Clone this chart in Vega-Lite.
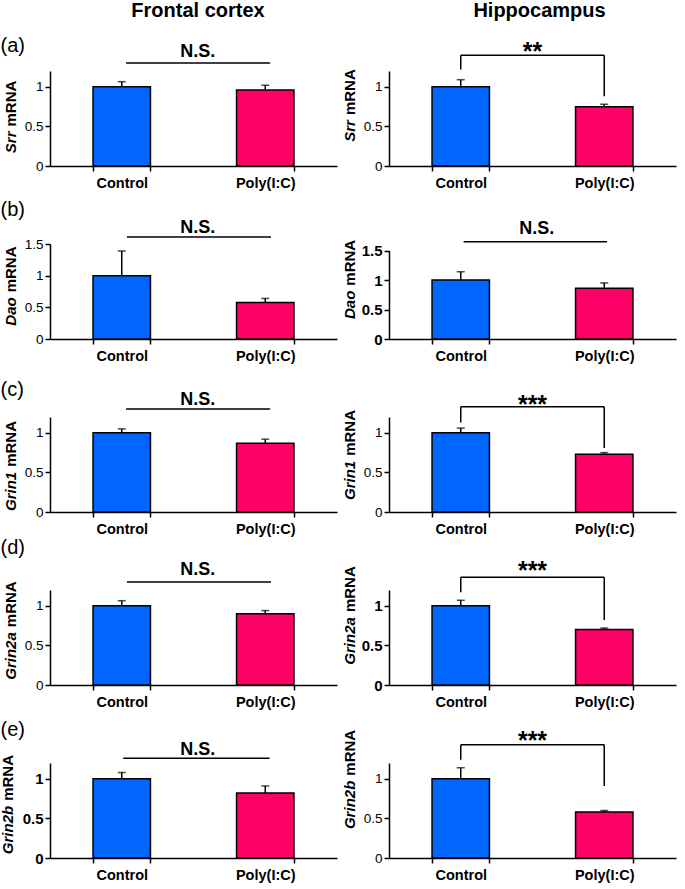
{
"$schema": "https://vega.github.io/schema/vega-lite/v6.json",
"padding": {"left": 0, "top": 0, "right": 5, "bottom": 5},
"background": "white",
"datasets": {
"bars": [
{"p":"a1","group":"Control","mean":1.0,"upper":1.065},
{"p":"a1","group":"Poly(I:C)","mean":0.96,"upper":1.02},
{"p":"a2","group":"Control","mean":1.0,"upper":1.09},
{"p":"a2","group":"Poly(I:C)","mean":0.75,"upper":0.78},
{"p":"b1","group":"Control","mean":1.0,"upper":1.39},
{"p":"b1","group":"Poly(I:C)","mean":0.575,"upper":0.64},
{"p":"b2","group":"Control","mean":1.0,"upper":1.14},
{"p":"b2","group":"Poly(I:C)","mean":0.86,"upper":0.95},
{"p":"c1","group":"Control","mean":1.0,"upper":1.05},
{"p":"c1","group":"Poly(I:C)","mean":0.87,"upper":0.92},
{"p":"c2","group":"Control","mean":1.0,"upper":1.06},
{"p":"c2","group":"Poly(I:C)","mean":0.73,"upper":0.75},
{"p":"d1","group":"Control","mean":1.0,"upper":1.065},
{"p":"d1","group":"Poly(I:C)","mean":0.9,"upper":0.94},
{"p":"d2","group":"Control","mean":1.0,"upper":1.07},
{"p":"d2","group":"Poly(I:C)","mean":0.7,"upper":0.72},
{"p":"e1","group":"Control","mean":1.0,"upper":1.08},
{"p":"e1","group":"Poly(I:C)","mean":0.82,"upper":0.91},
{"p":"e2","group":"Control","mean":1.0,"upper":1.14},
{"p":"e2","group":"Poly(I:C)","mean":0.58,"upper":0.6}
],
"lines": [
{"p":"a1","px":0.265,"px2":0.767,"y":1.3,"y2":1.3},
{"p":"a2","px":0.25,"px2":0.75,"y":1.4,"y2":1.4},
{"p":"a2","px":0.25,"px2":0.25,"y":1.4,"y2":1.22},
{"p":"a2","px":0.75,"px2":0.75,"y":1.4,"y2":0.88},
{"p":"b1","px":0.268,"px2":0.77,"y":1.61,"y2":1.61},
{"p":"b2","px":0.26,"px2":0.76,"y":1.65,"y2":1.65},
{"p":"c1","px":0.265,"px2":0.767,"y":1.3,"y2":1.3},
{"p":"c2","px":0.25,"px2":0.75,"y":1.33,"y2":1.33},
{"p":"c2","px":0.25,"px2":0.25,"y":1.33,"y2":1.13},
{"p":"c2","px":0.75,"px2":0.75,"y":1.33,"y2":0.81},
{"p":"d1","px":0.268,"px2":0.77,"y":1.3,"y2":1.3},
{"p":"d2","px":0.25,"px2":0.75,"y":1.36,"y2":1.36},
{"p":"d2","px":0.25,"px2":0.25,"y":1.36,"y2":1.17},
{"p":"d2","px":0.75,"px2":0.75,"y":1.36,"y2":0.82},
{"p":"e1","px":0.255,"px2":0.765,"y":1.26,"y2":1.26},
{"p":"e2","px":0.25,"px2":0.75,"y":1.43,"y2":1.43},
{"p":"e2","px":0.25,"px2":0.25,"y":1.43,"y2":1.24},
{"p":"e2","px":0.75,"px2":0.75,"y":1.43,"y2":0.91}
],
"texts": [
{"p":"a1","px":0.515,"y":1.38,"label":"N.S."},
{"p":"a2","px":0.5,"y":1.34,"label":"**"},
{"p":"b1","px":0.515,"y":1.67,"label":"N.S."},
{"p":"b2","px":0.515,"y":1.78,"label":"N.S."},
{"p":"c1","px":0.515,"y":1.35,"label":"N.S."},
{"p":"c2","px":0.5,"y":1.25,"label":"***"},
{"p":"d1","px":0.515,"y":1.39,"label":"N.S."},
{"p":"d2","px":0.5,"y":1.34,"label":"***"},
{"p":"e1","px":0.515,"y":1.3,"label":"N.S."},
{"p":"e2","px":0.5,"y":1.38,"label":"***"}
]
},
"columns": 2,
"spacing": {"row": 78, "column": 52},
"bounds": "flush",
"concat": [
{
"width": 287, "height": 95,
"layer": [
{"data": {"name": "bars"}, "transform": [{"filter": "datum.p === 'a1'"}],
 "mark": {"type": "bar", "stroke": "black", "strokeWidth": 1.5},
 "encoding": {
  "x": {"field": "group", "type": "nominal", "sort": null, "scale": {"domain": ["Control","Poly(I:C)"], "paddingInner": 0.6, "paddingOuter": 0.3}, "axis": {"title": null, "orient": "bottom", "labelAngle": 0, "labelFontWeight": "bold", "labelFontSize": 14.5, "labelPadding": 5, "tickBand": "extent", "tickSize": 5}},
  "y": {"field": "mean", "type": "quantitative", "scale": {"domain": [0, 1.2], "nice": false, "zero": true}, "axis": {"values": [0, 0.5, 1], "format": "~g", "labelFontSize": 13.5, "labelFontWeight": "normal", "labelPadding": 2, "tickSize": 5, "title": "mRNA", "titleX": -35, "titleY": 55, "titleAlign": "left", "titleAngle": -90, "titleBaseline": "alphabetic", "titleFontSize": 15, "titleFontWeight": "bold"}},
  "fill": {"field": "group", "type": "nominal", "scale": {"domain": ["Control","Poly(I:C)"], "range": ["#0066FF","#FF0066"]}, "legend": null}
 }},
{"data": {"name": "bars"}, "transform": [{"filter": "datum.p === 'a1'"}],
 "mark": {"type": "rule", "strokeWidth": 1.5, "color": "black"},
 "encoding": {
  "x": {"field": "group", "type": "nominal", "sort": null, "scale": {"domain": ["Control","Poly(I:C)"], "paddingInner": 0.6, "paddingOuter": 0.3}, "axis": {"orient": "top", "labels": false, "ticks": false, "domain": false, "title": "(a)", "titleX": -50, "titleY": -20, "titleAlign": "left", "titleAngle": 0, "titleBaseline": "alphabetic", "titleFontSize": 20, "titleFontWeight": "normal"}},
  "y": {"field": "mean", "type": "quantitative", "scale": {"domain": [0, 1.2], "nice": false, "zero": true}, "axis": null},
  "y2": {"field": "upper"}
 }},
{"data": {"name": "bars"}, "transform": [{"filter": "datum.p === 'a1'"}],
 "mark": {"type": "tick", "size": 8, "thickness": 1.5, "color": "black"},
 "encoding": {
  "x": {"field": "group", "type": "nominal", "sort": null, "scale": {"domain": ["Control","Poly(I:C)"], "paddingInner": 0.6, "paddingOuter": 0.3}, "axis": null},
  "y": {"field": "upper", "type": "quantitative", "scale": {"domain": [0, 1.2], "nice": false, "zero": true}, "axis": null}
 }},
{"data": {"name": "lines"}, "transform": [{"filter": "datum.p === 'a1'"}],
 "mark": {"type": "rule", "strokeWidth": 1.5, "color": "black"},
 "encoding": {
  "x": {"field": "px", "type": "quantitative", "scale": {"domain": [0, 1]}, "axis": null},
  "x2": {"field": "px2"},
  "y": {"field": "y", "type": "quantitative", "scale": {"domain": [0, 1.2], "nice": false, "zero": true}, "axis": {"orient": "left", "labels": false, "ticks": false, "domain": false, "grid": false, "title": "Srr", "titleFontStyle": "italic", "titleX": -35, "titleY": 60, "titleAlign": "right", "titleAngle": -90, "titleBaseline": "alphabetic", "titleFontSize": 15, "titleFontWeight": "bold"}},
  "y2": {"field": "y2"}
 }},
{"data": {"name": "texts"}, "transform": [{"filter": "datum.p === 'a1'"}],
 "mark": {"type": "text", "fontWeight": "bold", "fontSize": 18, "baseline": "alphabetic"},
 "encoding": {
  "x": {"field": "px", "type": "quantitative", "scale": {"domain": [0, 1]}, "axis": {"orient": "top", "labels": false, "ticks": false, "domain": false, "title": "Frontal cortex", "titleX": 147.5, "titleY": -55, "titleAlign": "center", "titleAngle": 0, "titleBaseline": "alphabetic", "titleFontSize": 20, "titleFontWeight": "bold"}},
  "y": {"field": "y", "type": "quantitative", "scale": {"domain": [0, 1.2], "nice": false, "zero": true}, "axis": null},
  "text": {"field": "label"}
 }}
],
"resolve": {"scale": {"x": "independent"}, "axis": {"y": "independent"}}
},
{
"width": 287, "height": 95,
"layer": [
{"data": {"name": "bars"}, "transform": [{"filter": "datum.p === 'a2'"}],
 "mark": {"type": "bar", "stroke": "black", "strokeWidth": 1.5},
 "encoding": {
  "x": {"field": "group", "type": "nominal", "sort": null, "scale": {"domain": ["Control","Poly(I:C)"], "paddingInner": 0.6, "paddingOuter": 0.3}, "axis": {"title": null, "orient": "bottom", "labelAngle": 0, "labelFontWeight": "bold", "labelFontSize": 14.5, "labelPadding": 5, "tickBand": "extent", "tickSize": 5}},
  "y": {"field": "mean", "type": "quantitative", "scale": {"domain": [0, 1.2], "nice": false, "zero": true}, "axis": {"values": [0, 0.5, 1], "format": "~g", "labelFontSize": 13.5, "labelFontWeight": "normal", "labelPadding": 2, "tickSize": 5, "title": "mRNA", "titleX": -35, "titleY": 43.6, "titleAlign": "left", "titleAngle": -90, "titleBaseline": "alphabetic", "titleFontSize": 15, "titleFontWeight": "bold"}},
  "fill": {"field": "group", "type": "nominal", "scale": {"domain": ["Control","Poly(I:C)"], "range": ["#0066FF","#FF0066"]}, "legend": null}
 }},
{"data": {"name": "bars"}, "transform": [{"filter": "datum.p === 'a2'"}],
 "mark": {"type": "rule", "strokeWidth": 1.5, "color": "black"},
 "encoding": {
  "x": {"field": "group", "type": "nominal", "sort": null, "scale": {"domain": ["Control","Poly(I:C)"], "paddingInner": 0.6, "paddingOuter": 0.3}, "axis": null},
  "y": {"field": "mean", "type": "quantitative", "scale": {"domain": [0, 1.2], "nice": false, "zero": true}, "axis": null},
  "y2": {"field": "upper"}
 }},
{"data": {"name": "bars"}, "transform": [{"filter": "datum.p === 'a2'"}],
 "mark": {"type": "tick", "size": 8, "thickness": 1.5, "color": "black"},
 "encoding": {
  "x": {"field": "group", "type": "nominal", "sort": null, "scale": {"domain": ["Control","Poly(I:C)"], "paddingInner": 0.6, "paddingOuter": 0.3}, "axis": null},
  "y": {"field": "upper", "type": "quantitative", "scale": {"domain": [0, 1.2], "nice": false, "zero": true}, "axis": null}
 }},
{"data": {"name": "lines"}, "transform": [{"filter": "datum.p === 'a2'"}],
 "mark": {"type": "rule", "strokeWidth": 1.5, "color": "black"},
 "encoding": {
  "x": {"field": "px", "type": "quantitative", "scale": {"domain": [0, 1]}, "axis": null},
  "x2": {"field": "px2"},
  "y": {"field": "y", "type": "quantitative", "scale": {"domain": [0, 1.2], "nice": false, "zero": true}, "axis": {"orient": "left", "labels": false, "ticks": false, "domain": false, "grid": false, "title": "Srr", "titleFontStyle": "italic", "titleX": -35, "titleY": 48.6, "titleAlign": "right", "titleAngle": -90, "titleBaseline": "alphabetic", "titleFontSize": 15, "titleFontWeight": "bold"}},
  "y2": {"field": "y2"}
 }},
{"data": {"name": "texts"}, "transform": [{"filter": "datum.p === 'a2'"}],
 "mark": {"type": "text", "fontWeight": "bold", "fontSize": 25, "baseline": "alphabetic"},
 "encoding": {
  "x": {"field": "px", "type": "quantitative", "scale": {"domain": [0, 1]}, "axis": {"orient": "top", "labels": false, "ticks": false, "domain": false, "title": "Hippocampus", "titleX": 150, "titleY": -55, "titleAlign": "center", "titleAngle": 0, "titleBaseline": "alphabetic", "titleFontSize": 20, "titleFontWeight": "bold"}},
  "y": {"field": "y", "type": "quantitative", "scale": {"domain": [0, 1.2], "nice": false, "zero": true}, "axis": null},
  "text": {"field": "label"}
 }}
],
"resolve": {"scale": {"x": "independent"}, "axis": {"y": "independent"}}
},
{
"width": 287, "height": 95,
"layer": [
{"data": {"name": "bars"}, "transform": [{"filter": "datum.p === 'b1'"}],
 "mark": {"type": "bar", "stroke": "black", "strokeWidth": 1.5},
 "encoding": {
  "x": {"field": "group", "type": "nominal", "sort": null, "scale": {"domain": ["Control","Poly(I:C)"], "paddingInner": 0.6, "paddingOuter": 0.3}, "axis": {"title": null, "orient": "bottom", "labelAngle": 0, "labelFontWeight": "bold", "labelFontSize": 14.5, "labelPadding": 5, "tickBand": "extent", "tickSize": 5}},
  "y": {"field": "mean", "type": "quantitative", "scale": {"domain": [0, 1.5], "nice": false, "zero": true}, "axis": {"values": [0, 0.5, 1, 1.5], "format": "~g", "labelFontSize": 13.5, "labelFontWeight": "normal", "labelPadding": 2, "tickSize": 5, "title": "mRNA", "titleX": -35, "titleY": 47.8, "titleAlign": "left", "titleAngle": -90, "titleBaseline": "alphabetic", "titleFontSize": 15, "titleFontWeight": "bold"}},
  "fill": {"field": "group", "type": "nominal", "scale": {"domain": ["Control","Poly(I:C)"], "range": ["#0066FF","#FF0066"]}, "legend": null}
 }},
{"data": {"name": "bars"}, "transform": [{"filter": "datum.p === 'b1'"}],
 "mark": {"type": "rule", "strokeWidth": 1.5, "color": "black"},
 "encoding": {
  "x": {"field": "group", "type": "nominal", "sort": null, "scale": {"domain": ["Control","Poly(I:C)"], "paddingInner": 0.6, "paddingOuter": 0.3}, "axis": {"orient": "top", "labels": false, "ticks": false, "domain": false, "title": "(b)", "titleX": -50, "titleY": -29, "titleAlign": "left", "titleAngle": 0, "titleBaseline": "alphabetic", "titleFontSize": 20, "titleFontWeight": "normal"}},
  "y": {"field": "mean", "type": "quantitative", "scale": {"domain": [0, 1.5], "nice": false, "zero": true}, "axis": null},
  "y2": {"field": "upper"}
 }},
{"data": {"name": "bars"}, "transform": [{"filter": "datum.p === 'b1'"}],
 "mark": {"type": "tick", "size": 8, "thickness": 1.5, "color": "black"},
 "encoding": {
  "x": {"field": "group", "type": "nominal", "sort": null, "scale": {"domain": ["Control","Poly(I:C)"], "paddingInner": 0.6, "paddingOuter": 0.3}, "axis": null},
  "y": {"field": "upper", "type": "quantitative", "scale": {"domain": [0, 1.5], "nice": false, "zero": true}, "axis": null}
 }},
{"data": {"name": "lines"}, "transform": [{"filter": "datum.p === 'b1'"}],
 "mark": {"type": "rule", "strokeWidth": 1.5, "color": "black"},
 "encoding": {
  "x": {"field": "px", "type": "quantitative", "scale": {"domain": [0, 1]}, "axis": null},
  "x2": {"field": "px2"},
  "y": {"field": "y", "type": "quantitative", "scale": {"domain": [0, 1.5], "nice": false, "zero": true}, "axis": {"orient": "left", "labels": false, "ticks": false, "domain": false, "grid": false, "title": "Dao", "titleFontStyle": "italic", "titleX": -35, "titleY": 52.8, "titleAlign": "right", "titleAngle": -90, "titleBaseline": "alphabetic", "titleFontSize": 15, "titleFontWeight": "bold"}},
  "y2": {"field": "y2"}
 }},
{"data": {"name": "texts"}, "transform": [{"filter": "datum.p === 'b1'"}],
 "mark": {"type": "text", "fontWeight": "bold", "fontSize": 18, "baseline": "alphabetic"},
 "encoding": {
  "x": {"field": "px", "type": "quantitative", "scale": {"domain": [0, 1]}, "axis": null},
  "y": {"field": "y", "type": "quantitative", "scale": {"domain": [0, 1.5], "nice": false, "zero": true}, "axis": null},
  "text": {"field": "label"}
 }}
],
"resolve": {"scale": {"x": "independent"}, "axis": {"y": "independent"}}
},
{
"width": 287, "height": 95,
"layer": [
{"data": {"name": "bars"}, "transform": [{"filter": "datum.p === 'b2'"}],
 "mark": {"type": "bar", "stroke": "black", "strokeWidth": 1.5},
 "encoding": {
  "x": {"field": "group", "type": "nominal", "sort": null, "scale": {"domain": ["Control","Poly(I:C)"], "paddingInner": 0.6, "paddingOuter": 0.3}, "axis": {"title": null, "orient": "bottom", "labelAngle": 0, "labelFontWeight": "bold", "labelFontSize": 14.5, "labelPadding": 5, "tickBand": "extent", "tickSize": 5}},
  "y": {"field": "mean", "type": "quantitative", "scale": {"domain": [0, 1.5], "nice": false, "zero": true, "range": [95, 6.5]}, "axis": {"values": [0, 0.5, 1, 1.5], "format": "~g", "labelFontSize": 15, "labelFontWeight": "bold", "labelPadding": 2, "tickSize": 5, "title": "mRNA", "titleX": -35, "titleY": 41.2, "titleAlign": "left", "titleAngle": -90, "titleBaseline": "alphabetic", "titleFontSize": 15, "titleFontWeight": "bold"}},
  "fill": {"field": "group", "type": "nominal", "scale": {"domain": ["Control","Poly(I:C)"], "range": ["#0066FF","#FF0066"]}, "legend": null}
 }},
{"data": {"name": "bars"}, "transform": [{"filter": "datum.p === 'b2'"}],
 "mark": {"type": "rule", "strokeWidth": 1.5, "color": "black"},
 "encoding": {
  "x": {"field": "group", "type": "nominal", "sort": null, "scale": {"domain": ["Control","Poly(I:C)"], "paddingInner": 0.6, "paddingOuter": 0.3}, "axis": null},
  "y": {"field": "mean", "type": "quantitative", "scale": {"domain": [0, 1.5], "nice": false, "zero": true, "range": [95, 6.5]}, "axis": null},
  "y2": {"field": "upper"}
 }},
{"data": {"name": "bars"}, "transform": [{"filter": "datum.p === 'b2'"}],
 "mark": {"type": "tick", "size": 8, "thickness": 1.5, "color": "black"},
 "encoding": {
  "x": {"field": "group", "type": "nominal", "sort": null, "scale": {"domain": ["Control","Poly(I:C)"], "paddingInner": 0.6, "paddingOuter": 0.3}, "axis": null},
  "y": {"field": "upper", "type": "quantitative", "scale": {"domain": [0, 1.5], "nice": false, "zero": true, "range": [95, 6.5]}, "axis": null}
 }},
{"data": {"name": "lines"}, "transform": [{"filter": "datum.p === 'b2'"}],
 "mark": {"type": "rule", "strokeWidth": 1.5, "color": "black"},
 "encoding": {
  "x": {"field": "px", "type": "quantitative", "scale": {"domain": [0, 1]}, "axis": null},
  "x2": {"field": "px2"},
  "y": {"field": "y", "type": "quantitative", "scale": {"domain": [0, 1.5], "nice": false, "zero": true, "range": [95, 6.5]}, "axis": {"orient": "left", "labels": false, "ticks": false, "domain": false, "grid": false, "title": "Dao", "titleFontStyle": "italic", "titleX": -35, "titleY": 46.2, "titleAlign": "right", "titleAngle": -90, "titleBaseline": "alphabetic", "titleFontSize": 15, "titleFontWeight": "bold"}},
  "y2": {"field": "y2"}
 }},
{"data": {"name": "texts"}, "transform": [{"filter": "datum.p === 'b2'"}],
 "mark": {"type": "text", "fontWeight": "bold", "fontSize": 18, "baseline": "alphabetic"},
 "encoding": {
  "x": {"field": "px", "type": "quantitative", "scale": {"domain": [0, 1]}, "axis": null},
  "y": {"field": "y", "type": "quantitative", "scale": {"domain": [0, 1.5], "nice": false, "zero": true, "range": [95, 6.5]}, "axis": null},
  "text": {"field": "label"}
 }}
],
"resolve": {"scale": {"x": "independent"}, "axis": {"y": "independent"}}
},
{
"width": 287, "height": 95,
"layer": [
{"data": {"name": "bars"}, "transform": [{"filter": "datum.p === 'c1'"}],
 "mark": {"type": "bar", "stroke": "black", "strokeWidth": 1.5},
 "encoding": {
  "x": {"field": "group", "type": "nominal", "sort": null, "scale": {"domain": ["Control","Poly(I:C)"], "paddingInner": 0.6, "paddingOuter": 0.3}, "axis": {"title": null, "orient": "bottom", "labelAngle": 0, "labelFontWeight": "bold", "labelFontSize": 14.5, "labelPadding": 5, "tickBand": "extent", "tickSize": 5}},
  "y": {"field": "mean", "type": "quantitative", "scale": {"domain": [0, 1.2], "nice": false, "zero": true}, "axis": {"values": [0, 0.5, 1], "format": "~g", "labelFontSize": 13.5, "labelFontWeight": "normal", "labelPadding": 2, "tickSize": 5, "title": "mRNA", "titleX": -35, "titleY": 49.3, "titleAlign": "left", "titleAngle": -90, "titleBaseline": "alphabetic", "titleFontSize": 15, "titleFontWeight": "bold"}},
  "fill": {"field": "group", "type": "nominal", "scale": {"domain": ["Control","Poly(I:C)"], "range": ["#0066FF","#FF0066"]}, "legend": null}
 }},
{"data": {"name": "bars"}, "transform": [{"filter": "datum.p === 'c1'"}],
 "mark": {"type": "rule", "strokeWidth": 1.5, "color": "black"},
 "encoding": {
  "x": {"field": "group", "type": "nominal", "sort": null, "scale": {"domain": ["Control","Poly(I:C)"], "paddingInner": 0.6, "paddingOuter": 0.3}, "axis": {"orient": "top", "labels": false, "ticks": false, "domain": false, "title": "(c)", "titleX": -50, "titleY": -22, "titleAlign": "left", "titleAngle": 0, "titleBaseline": "alphabetic", "titleFontSize": 20, "titleFontWeight": "normal"}},
  "y": {"field": "mean", "type": "quantitative", "scale": {"domain": [0, 1.2], "nice": false, "zero": true}, "axis": null},
  "y2": {"field": "upper"}
 }},
{"data": {"name": "bars"}, "transform": [{"filter": "datum.p === 'c1'"}],
 "mark": {"type": "tick", "size": 8, "thickness": 1.5, "color": "black"},
 "encoding": {
  "x": {"field": "group", "type": "nominal", "sort": null, "scale": {"domain": ["Control","Poly(I:C)"], "paddingInner": 0.6, "paddingOuter": 0.3}, "axis": null},
  "y": {"field": "upper", "type": "quantitative", "scale": {"domain": [0, 1.2], "nice": false, "zero": true}, "axis": null}
 }},
{"data": {"name": "lines"}, "transform": [{"filter": "datum.p === 'c1'"}],
 "mark": {"type": "rule", "strokeWidth": 1.5, "color": "black"},
 "encoding": {
  "x": {"field": "px", "type": "quantitative", "scale": {"domain": [0, 1]}, "axis": null},
  "x2": {"field": "px2"},
  "y": {"field": "y", "type": "quantitative", "scale": {"domain": [0, 1.2], "nice": false, "zero": true}, "axis": {"orient": "left", "labels": false, "ticks": false, "domain": false, "grid": false, "title": "Grin1", "titleFontStyle": "italic", "titleX": -35, "titleY": 54.3, "titleAlign": "right", "titleAngle": -90, "titleBaseline": "alphabetic", "titleFontSize": 15, "titleFontWeight": "bold"}},
  "y2": {"field": "y2"}
 }},
{"data": {"name": "texts"}, "transform": [{"filter": "datum.p === 'c1'"}],
 "mark": {"type": "text", "fontWeight": "bold", "fontSize": 18, "baseline": "alphabetic"},
 "encoding": {
  "x": {"field": "px", "type": "quantitative", "scale": {"domain": [0, 1]}, "axis": null},
  "y": {"field": "y", "type": "quantitative", "scale": {"domain": [0, 1.2], "nice": false, "zero": true}, "axis": null},
  "text": {"field": "label"}
 }}
],
"resolve": {"scale": {"x": "independent"}, "axis": {"y": "independent"}}
},
{
"width": 287, "height": 95,
"layer": [
{"data": {"name": "bars"}, "transform": [{"filter": "datum.p === 'c2'"}],
 "mark": {"type": "bar", "stroke": "black", "strokeWidth": 1.5},
 "encoding": {
  "x": {"field": "group", "type": "nominal", "sort": null, "scale": {"domain": ["Control","Poly(I:C)"], "paddingInner": 0.6, "paddingOuter": 0.3}, "axis": {"title": null, "orient": "bottom", "labelAngle": 0, "labelFontWeight": "bold", "labelFontSize": 14.5, "labelPadding": 5, "tickBand": "extent", "tickSize": 5}},
  "y": {"field": "mean", "type": "quantitative", "scale": {"domain": [0, 1.2], "nice": false, "zero": true}, "axis": {"values": [0, 0.5, 1], "format": "~g", "labelFontSize": 13.5, "labelFontWeight": "normal", "labelPadding": 2, "tickSize": 5, "title": "mRNA", "titleX": -35, "titleY": 38.3, "titleAlign": "left", "titleAngle": -90, "titleBaseline": "alphabetic", "titleFontSize": 15, "titleFontWeight": "bold"}},
  "fill": {"field": "group", "type": "nominal", "scale": {"domain": ["Control","Poly(I:C)"], "range": ["#0066FF","#FF0066"]}, "legend": null}
 }},
{"data": {"name": "bars"}, "transform": [{"filter": "datum.p === 'c2'"}],
 "mark": {"type": "rule", "strokeWidth": 1.5, "color": "black"},
 "encoding": {
  "x": {"field": "group", "type": "nominal", "sort": null, "scale": {"domain": ["Control","Poly(I:C)"], "paddingInner": 0.6, "paddingOuter": 0.3}, "axis": null},
  "y": {"field": "mean", "type": "quantitative", "scale": {"domain": [0, 1.2], "nice": false, "zero": true}, "axis": null},
  "y2": {"field": "upper"}
 }},
{"data": {"name": "bars"}, "transform": [{"filter": "datum.p === 'c2'"}],
 "mark": {"type": "tick", "size": 8, "thickness": 1.5, "color": "black"},
 "encoding": {
  "x": {"field": "group", "type": "nominal", "sort": null, "scale": {"domain": ["Control","Poly(I:C)"], "paddingInner": 0.6, "paddingOuter": 0.3}, "axis": null},
  "y": {"field": "upper", "type": "quantitative", "scale": {"domain": [0, 1.2], "nice": false, "zero": true}, "axis": null}
 }},
{"data": {"name": "lines"}, "transform": [{"filter": "datum.p === 'c2'"}],
 "mark": {"type": "rule", "strokeWidth": 1.5, "color": "black"},
 "encoding": {
  "x": {"field": "px", "type": "quantitative", "scale": {"domain": [0, 1]}, "axis": null},
  "x2": {"field": "px2"},
  "y": {"field": "y", "type": "quantitative", "scale": {"domain": [0, 1.2], "nice": false, "zero": true}, "axis": {"orient": "left", "labels": false, "ticks": false, "domain": false, "grid": false, "title": "Grin1", "titleFontStyle": "italic", "titleX": -35, "titleY": 43.3, "titleAlign": "right", "titleAngle": -90, "titleBaseline": "alphabetic", "titleFontSize": 15, "titleFontWeight": "bold"}},
  "y2": {"field": "y2"}
 }},
{"data": {"name": "texts"}, "transform": [{"filter": "datum.p === 'c2'"}],
 "mark": {"type": "text", "fontWeight": "bold", "fontSize": 25, "baseline": "alphabetic"},
 "encoding": {
  "x": {"field": "px", "type": "quantitative", "scale": {"domain": [0, 1]}, "axis": null},
  "y": {"field": "y", "type": "quantitative", "scale": {"domain": [0, 1.2], "nice": false, "zero": true}, "axis": null},
  "text": {"field": "label"}
 }}
],
"resolve": {"scale": {"x": "independent"}, "axis": {"y": "independent"}}
},
{
"width": 287, "height": 95,
"layer": [
{"data": {"name": "bars"}, "transform": [{"filter": "datum.p === 'd1'"}],
 "mark": {"type": "bar", "stroke": "black", "strokeWidth": 1.5},
 "encoding": {
  "x": {"field": "group", "type": "nominal", "sort": null, "scale": {"domain": ["Control","Poly(I:C)"], "paddingInner": 0.6, "paddingOuter": 0.3}, "axis": {"title": null, "orient": "bottom", "labelAngle": 0, "labelFontWeight": "bold", "labelFontSize": 14.5, "labelPadding": 5, "tickBand": "extent", "tickSize": 5}},
  "y": {"field": "mean", "type": "quantitative", "scale": {"domain": [0, 1.2], "nice": false, "zero": true}, "axis": {"values": [0, 0.5, 1], "format": "~g", "labelFontSize": 13.5, "labelFontWeight": "normal", "labelPadding": 2, "tickSize": 5, "title": "mRNA", "titleX": -35, "titleY": 36.7, "titleAlign": "left", "titleAngle": -90, "titleBaseline": "alphabetic", "titleFontSize": 15, "titleFontWeight": "bold"}},
  "fill": {"field": "group", "type": "nominal", "scale": {"domain": ["Control","Poly(I:C)"], "range": ["#0066FF","#FF0066"]}, "legend": null}
 }},
{"data": {"name": "bars"}, "transform": [{"filter": "datum.p === 'd1'"}],
 "mark": {"type": "rule", "strokeWidth": 1.5, "color": "black"},
 "encoding": {
  "x": {"field": "group", "type": "nominal", "sort": null, "scale": {"domain": ["Control","Poly(I:C)"], "paddingInner": 0.6, "paddingOuter": 0.3}, "axis": {"orient": "top", "labels": false, "ticks": false, "domain": false, "title": "(d)", "titleX": -50, "titleY": -37, "titleAlign": "left", "titleAngle": 0, "titleBaseline": "alphabetic", "titleFontSize": 20, "titleFontWeight": "normal"}},
  "y": {"field": "mean", "type": "quantitative", "scale": {"domain": [0, 1.2], "nice": false, "zero": true}, "axis": null},
  "y2": {"field": "upper"}
 }},
{"data": {"name": "bars"}, "transform": [{"filter": "datum.p === 'd1'"}],
 "mark": {"type": "tick", "size": 8, "thickness": 1.5, "color": "black"},
 "encoding": {
  "x": {"field": "group", "type": "nominal", "sort": null, "scale": {"domain": ["Control","Poly(I:C)"], "paddingInner": 0.6, "paddingOuter": 0.3}, "axis": null},
  "y": {"field": "upper", "type": "quantitative", "scale": {"domain": [0, 1.2], "nice": false, "zero": true}, "axis": null}
 }},
{"data": {"name": "lines"}, "transform": [{"filter": "datum.p === 'd1'"}],
 "mark": {"type": "rule", "strokeWidth": 1.5, "color": "black"},
 "encoding": {
  "x": {"field": "px", "type": "quantitative", "scale": {"domain": [0, 1]}, "axis": null},
  "x2": {"field": "px2"},
  "y": {"field": "y", "type": "quantitative", "scale": {"domain": [0, 1.2], "nice": false, "zero": true}, "axis": {"orient": "left", "labels": false, "ticks": false, "domain": false, "grid": false, "title": "Grin2a", "titleFontStyle": "italic", "titleX": -35, "titleY": 41.7, "titleAlign": "right", "titleAngle": -90, "titleBaseline": "alphabetic", "titleFontSize": 15, "titleFontWeight": "bold"}},
  "y2": {"field": "y2"}
 }},
{"data": {"name": "texts"}, "transform": [{"filter": "datum.p === 'd1'"}],
 "mark": {"type": "text", "fontWeight": "bold", "fontSize": 18, "baseline": "alphabetic"},
 "encoding": {
  "x": {"field": "px", "type": "quantitative", "scale": {"domain": [0, 1]}, "axis": null},
  "y": {"field": "y", "type": "quantitative", "scale": {"domain": [0, 1.2], "nice": false, "zero": true}, "axis": null},
  "text": {"field": "label"}
 }}
],
"resolve": {"scale": {"x": "independent"}, "axis": {"y": "independent"}}
},
{
"width": 287, "height": 95,
"layer": [
{"data": {"name": "bars"}, "transform": [{"filter": "datum.p === 'd2'"}],
 "mark": {"type": "bar", "stroke": "black", "strokeWidth": 1.5},
 "encoding": {
  "x": {"field": "group", "type": "nominal", "sort": null, "scale": {"domain": ["Control","Poly(I:C)"], "paddingInner": 0.6, "paddingOuter": 0.3}, "axis": {"title": null, "orient": "bottom", "labelAngle": 0, "labelFontWeight": "bold", "labelFontSize": 14.5, "labelPadding": 5, "tickBand": "extent", "tickSize": 5}},
  "y": {"field": "mean", "type": "quantitative", "scale": {"domain": [0, 1.2], "nice": false, "zero": true}, "axis": {"values": [0, 0.5, 1], "format": "~g", "labelFontSize": 15, "labelFontWeight": "bold", "labelPadding": 2, "tickSize": 5, "title": "mRNA", "titleX": -35, "titleY": 21.6, "titleAlign": "left", "titleAngle": -90, "titleBaseline": "alphabetic", "titleFontSize": 15, "titleFontWeight": "bold"}},
  "fill": {"field": "group", "type": "nominal", "scale": {"domain": ["Control","Poly(I:C)"], "range": ["#0066FF","#FF0066"]}, "legend": null}
 }},
{"data": {"name": "bars"}, "transform": [{"filter": "datum.p === 'd2'"}],
 "mark": {"type": "rule", "strokeWidth": 1.5, "color": "black"},
 "encoding": {
  "x": {"field": "group", "type": "nominal", "sort": null, "scale": {"domain": ["Control","Poly(I:C)"], "paddingInner": 0.6, "paddingOuter": 0.3}, "axis": null},
  "y": {"field": "mean", "type": "quantitative", "scale": {"domain": [0, 1.2], "nice": false, "zero": true}, "axis": null},
  "y2": {"field": "upper"}
 }},
{"data": {"name": "bars"}, "transform": [{"filter": "datum.p === 'd2'"}],
 "mark": {"type": "tick", "size": 8, "thickness": 1.5, "color": "black"},
 "encoding": {
  "x": {"field": "group", "type": "nominal", "sort": null, "scale": {"domain": ["Control","Poly(I:C)"], "paddingInner": 0.6, "paddingOuter": 0.3}, "axis": null},
  "y": {"field": "upper", "type": "quantitative", "scale": {"domain": [0, 1.2], "nice": false, "zero": true}, "axis": null}
 }},
{"data": {"name": "lines"}, "transform": [{"filter": "datum.p === 'd2'"}],
 "mark": {"type": "rule", "strokeWidth": 1.5, "color": "black"},
 "encoding": {
  "x": {"field": "px", "type": "quantitative", "scale": {"domain": [0, 1]}, "axis": null},
  "x2": {"field": "px2"},
  "y": {"field": "y", "type": "quantitative", "scale": {"domain": [0, 1.2], "nice": false, "zero": true}, "axis": {"orient": "left", "labels": false, "ticks": false, "domain": false, "grid": false, "title": "Grin2a", "titleFontStyle": "italic", "titleX": -35, "titleY": 26.6, "titleAlign": "right", "titleAngle": -90, "titleBaseline": "alphabetic", "titleFontSize": 15, "titleFontWeight": "bold"}},
  "y2": {"field": "y2"}
 }},
{"data": {"name": "texts"}, "transform": [{"filter": "datum.p === 'd2'"}],
 "mark": {"type": "text", "fontWeight": "bold", "fontSize": 25, "baseline": "alphabetic"},
 "encoding": {
  "x": {"field": "px", "type": "quantitative", "scale": {"domain": [0, 1]}, "axis": null},
  "y": {"field": "y", "type": "quantitative", "scale": {"domain": [0, 1.2], "nice": false, "zero": true}, "axis": null},
  "text": {"field": "label"}
 }}
],
"resolve": {"scale": {"x": "independent"}, "axis": {"y": "independent"}}
},
{
"width": 287, "height": 95,
"layer": [
{"data": {"name": "bars"}, "transform": [{"filter": "datum.p === 'e1'"}],
 "mark": {"type": "bar", "stroke": "black", "strokeWidth": 1.5},
 "encoding": {
  "x": {"field": "group", "type": "nominal", "sort": null, "scale": {"domain": ["Control","Poly(I:C)"], "paddingInner": 0.6, "paddingOuter": 0.3}, "axis": {"title": null, "orient": "bottom", "labelAngle": 0, "labelFontWeight": "bold", "labelFontSize": 14.5, "labelPadding": 5, "tickBand": "extent", "tickSize": 5}},
  "y": {"field": "mean", "type": "quantitative", "scale": {"domain": [0, 1.2], "nice": false, "zero": true}, "axis": {"values": [0, 0.5, 1], "format": "~g", "labelFontSize": 15, "labelFontWeight": "bold", "labelPadding": 2, "tickSize": 5, "title": "mRNA", "titleX": -38, "titleY": 37.3, "titleAlign": "left", "titleAngle": -90, "titleBaseline": "alphabetic", "titleFontSize": 15, "titleFontWeight": "bold"}},
  "fill": {"field": "group", "type": "nominal", "scale": {"domain": ["Control","Poly(I:C)"], "range": ["#0066FF","#FF0066"]}, "legend": null}
 }},
{"data": {"name": "bars"}, "transform": [{"filter": "datum.p === 'e1'"}],
 "mark": {"type": "rule", "strokeWidth": 1.5, "color": "black"},
 "encoding": {
  "x": {"field": "group", "type": "nominal", "sort": null, "scale": {"domain": ["Control","Poly(I:C)"], "paddingInner": 0.6, "paddingOuter": 0.3}, "axis": {"orient": "top", "labels": false, "ticks": false, "domain": false, "title": "(e)", "titleX": -50, "titleY": -28, "titleAlign": "left", "titleAngle": 0, "titleBaseline": "alphabetic", "titleFontSize": 20, "titleFontWeight": "normal"}},
  "y": {"field": "mean", "type": "quantitative", "scale": {"domain": [0, 1.2], "nice": false, "zero": true}, "axis": null},
  "y2": {"field": "upper"}
 }},
{"data": {"name": "bars"}, "transform": [{"filter": "datum.p === 'e1'"}],
 "mark": {"type": "tick", "size": 8, "thickness": 1.5, "color": "black"},
 "encoding": {
  "x": {"field": "group", "type": "nominal", "sort": null, "scale": {"domain": ["Control","Poly(I:C)"], "paddingInner": 0.6, "paddingOuter": 0.3}, "axis": null},
  "y": {"field": "upper", "type": "quantitative", "scale": {"domain": [0, 1.2], "nice": false, "zero": true}, "axis": null}
 }},
{"data": {"name": "lines"}, "transform": [{"filter": "datum.p === 'e1'"}],
 "mark": {"type": "rule", "strokeWidth": 1.5, "color": "black"},
 "encoding": {
  "x": {"field": "px", "type": "quantitative", "scale": {"domain": [0, 1]}, "axis": null},
  "x2": {"field": "px2"},
  "y": {"field": "y", "type": "quantitative", "scale": {"domain": [0, 1.2], "nice": false, "zero": true}, "axis": {"orient": "left", "labels": false, "ticks": false, "domain": false, "grid": false, "title": "Grin2b", "titleFontStyle": "italic", "titleX": -38, "titleY": 42.3, "titleAlign": "right", "titleAngle": -90, "titleBaseline": "alphabetic", "titleFontSize": 15, "titleFontWeight": "bold"}},
  "y2": {"field": "y2"}
 }},
{"data": {"name": "texts"}, "transform": [{"filter": "datum.p === 'e1'"}],
 "mark": {"type": "text", "fontWeight": "bold", "fontSize": 18, "baseline": "alphabetic"},
 "encoding": {
  "x": {"field": "px", "type": "quantitative", "scale": {"domain": [0, 1]}, "axis": null},
  "y": {"field": "y", "type": "quantitative", "scale": {"domain": [0, 1.2], "nice": false, "zero": true}, "axis": null},
  "text": {"field": "label"}
 }}
],
"resolve": {"scale": {"x": "independent"}, "axis": {"y": "independent"}}
},
{
"width": 287, "height": 95,
"layer": [
{"data": {"name": "bars"}, "transform": [{"filter": "datum.p === 'e2'"}],
 "mark": {"type": "bar", "stroke": "black", "strokeWidth": 1.5},
 "encoding": {
  "x": {"field": "group", "type": "nominal", "sort": null, "scale": {"domain": ["Control","Poly(I:C)"], "paddingInner": 0.6, "paddingOuter": 0.3}, "axis": {"title": null, "orient": "bottom", "labelAngle": 0, "labelFontWeight": "bold", "labelFontSize": 14.5, "labelPadding": 5, "tickBand": "extent", "tickSize": 5}},
  "y": {"field": "mean", "type": "quantitative", "scale": {"domain": [0, 1.2], "nice": false, "zero": true}, "axis": {"values": [0, 0.5, 1], "format": "~g", "labelFontSize": 13.5, "labelFontWeight": "normal", "labelPadding": 2, "tickSize": 5, "title": "mRNA", "titleX": -35, "titleY": 12.2, "titleAlign": "left", "titleAngle": -90, "titleBaseline": "alphabetic", "titleFontSize": 15, "titleFontWeight": "bold"}},
  "fill": {"field": "group", "type": "nominal", "scale": {"domain": ["Control","Poly(I:C)"], "range": ["#0066FF","#FF0066"]}, "legend": null}
 }},
{"data": {"name": "bars"}, "transform": [{"filter": "datum.p === 'e2'"}],
 "mark": {"type": "rule", "strokeWidth": 1.5, "color": "black"},
 "encoding": {
  "x": {"field": "group", "type": "nominal", "sort": null, "scale": {"domain": ["Control","Poly(I:C)"], "paddingInner": 0.6, "paddingOuter": 0.3}, "axis": null},
  "y": {"field": "mean", "type": "quantitative", "scale": {"domain": [0, 1.2], "nice": false, "zero": true}, "axis": null},
  "y2": {"field": "upper"}
 }},
{"data": {"name": "bars"}, "transform": [{"filter": "datum.p === 'e2'"}],
 "mark": {"type": "tick", "size": 8, "thickness": 1.5, "color": "black"},
 "encoding": {
  "x": {"field": "group", "type": "nominal", "sort": null, "scale": {"domain": ["Control","Poly(I:C)"], "paddingInner": 0.6, "paddingOuter": 0.3}, "axis": null},
  "y": {"field": "upper", "type": "quantitative", "scale": {"domain": [0, 1.2], "nice": false, "zero": true}, "axis": null}
 }},
{"data": {"name": "lines"}, "transform": [{"filter": "datum.p === 'e2'"}],
 "mark": {"type": "rule", "strokeWidth": 1.5, "color": "black"},
 "encoding": {
  "x": {"field": "px", "type": "quantitative", "scale": {"domain": [0, 1]}, "axis": null},
  "x2": {"field": "px2"},
  "y": {"field": "y", "type": "quantitative", "scale": {"domain": [0, 1.2], "nice": false, "zero": true}, "axis": {"orient": "left", "labels": false, "ticks": false, "domain": false, "grid": false, "title": "Grin2b", "titleFontStyle": "italic", "titleX": -35, "titleY": 17.2, "titleAlign": "right", "titleAngle": -90, "titleBaseline": "alphabetic", "titleFontSize": 15, "titleFontWeight": "bold"}},
  "y2": {"field": "y2"}
 }},
{"data": {"name": "texts"}, "transform": [{"filter": "datum.p === 'e2'"}],
 "mark": {"type": "text", "fontWeight": "bold", "fontSize": 25, "baseline": "alphabetic"},
 "encoding": {
  "x": {"field": "px", "type": "quantitative", "scale": {"domain": [0, 1]}, "axis": null},
  "y": {"field": "y", "type": "quantitative", "scale": {"domain": [0, 1.2], "nice": false, "zero": true}, "axis": null},
  "text": {"field": "label"}
 }}
],
"resolve": {"scale": {"x": "independent"}, "axis": {"y": "independent"}}
}
],
"config": {
 "view": {"stroke": null},
 "font": "Liberation Sans",
 "axis": {"grid": false, "domainColor": "black", "tickColor": "black", "labelColor": "black", "titleColor": "black", "domainWidth": 1.5, "tickWidth": 1.5, "labelFont": "Liberation Sans", "titleFont": "Liberation Sans"},
 "text": {"font": "Liberation Sans", "color": "black"}
}
}
